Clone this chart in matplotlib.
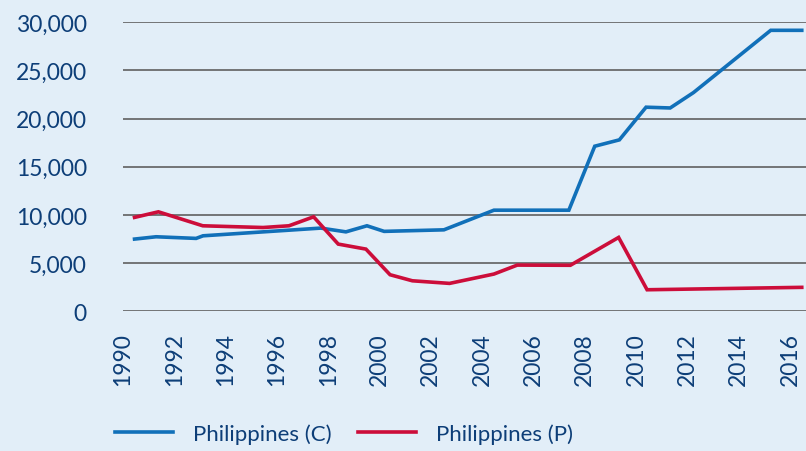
import numpy as np
import matplotlib.pyplot as plt

plt.rcParams['font.family'] = ['Lato', 'DejaVu Sans']

# series (year, value)
blue_years = [1990.0, 1990.84, 1992.4, 1992.67, 1997.26, 1998.24, 1999.06, 1999.73,
              2002.06, 2004.01, 2006.93, 2007.94, 2008.9, 2009.94, 2010.88, 2011.79,
              2014.8, 2016.01]
blue_vals = [7500, 7740, 7570, 7840, 8640, 8250, 8880, 8300,
             8460, 10500, 10500, 17140, 17800, 21190, 21110, 22710,
             29170, 29170]

red_years = [1990.0, 1990.93, 1992.66, 1995.01, 1996.02, 1996.98, 1997.94, 1999.02,
             1999.96, 2000.83, 2002.28, 2004.01, 2004.92, 2006.99, 2008.87, 2009.98,
             2016.01]
red_vals = [9750, 10330, 8880, 8700, 8880, 9810, 6980, 6460,
            3800, 3170, 2900, 3870, 4800, 4780, 7670, 2240,
            2490]

labels = ['Philippines (C)', 'Philippines (P)']
tick_years = list(range(1990, 2017, 2))
y_ticks = [0, 5000, 10000, 15000, 20000, 25000, 30000]

bg = '#e2eef8'
navy = '#0d3e78'
blue = '#1170b9'
red = '#cc0d3a'

fig = plt.figure(figsize=(8.06, 4.52), dpi=100, facecolor=bg)
ax = fig.add_axes([0.1526, 0.309, 0.8474, 0.6394])
ax.set_facecolor(bg)

ax.plot(blue_years, blue_vals, color=blue, lw=2.6, label=labels[0], solid_joinstyle='miter')
ax.plot(red_years, red_vals, color=red, lw=2.6, label=labels[1], solid_joinstyle='miter')

ax.set_xlim(1989.6, 2016.175)
ax.set_ylim(0, 30000)

for s in ax.spines.values():
    s.set_visible(False)

ax.set_yticks(y_ticks)
ax.set_yticklabels(['{:,}'.format(v) for v in y_ticks])
ax.yaxis.grid(True, color='#606060', lw=1.2)
ax.set_axisbelow(True)

# labels sit a bit left of the data points, as in the original
ax.set_xticks([y - 0.45 for y in tick_years])
ax.set_xticklabels([str(y) for y in tick_years], rotation=90, va='top')

ax.tick_params(axis='both', length=0, labelsize=16.5, colors=navy)
ax.tick_params(axis='y', pad=26)
ax.tick_params(axis='x', pad=15)

fig.legend(loc='center', bbox_to_anchor=(0.427, 0.038), ncol=2, frameon=False,
           fontsize=16, labelcolor=navy, handlelength=2.6, handletextpad=0.9,
           columnspacing=1.2)

fig.savefig('out.png', dpi=100, facecolor=bg)
